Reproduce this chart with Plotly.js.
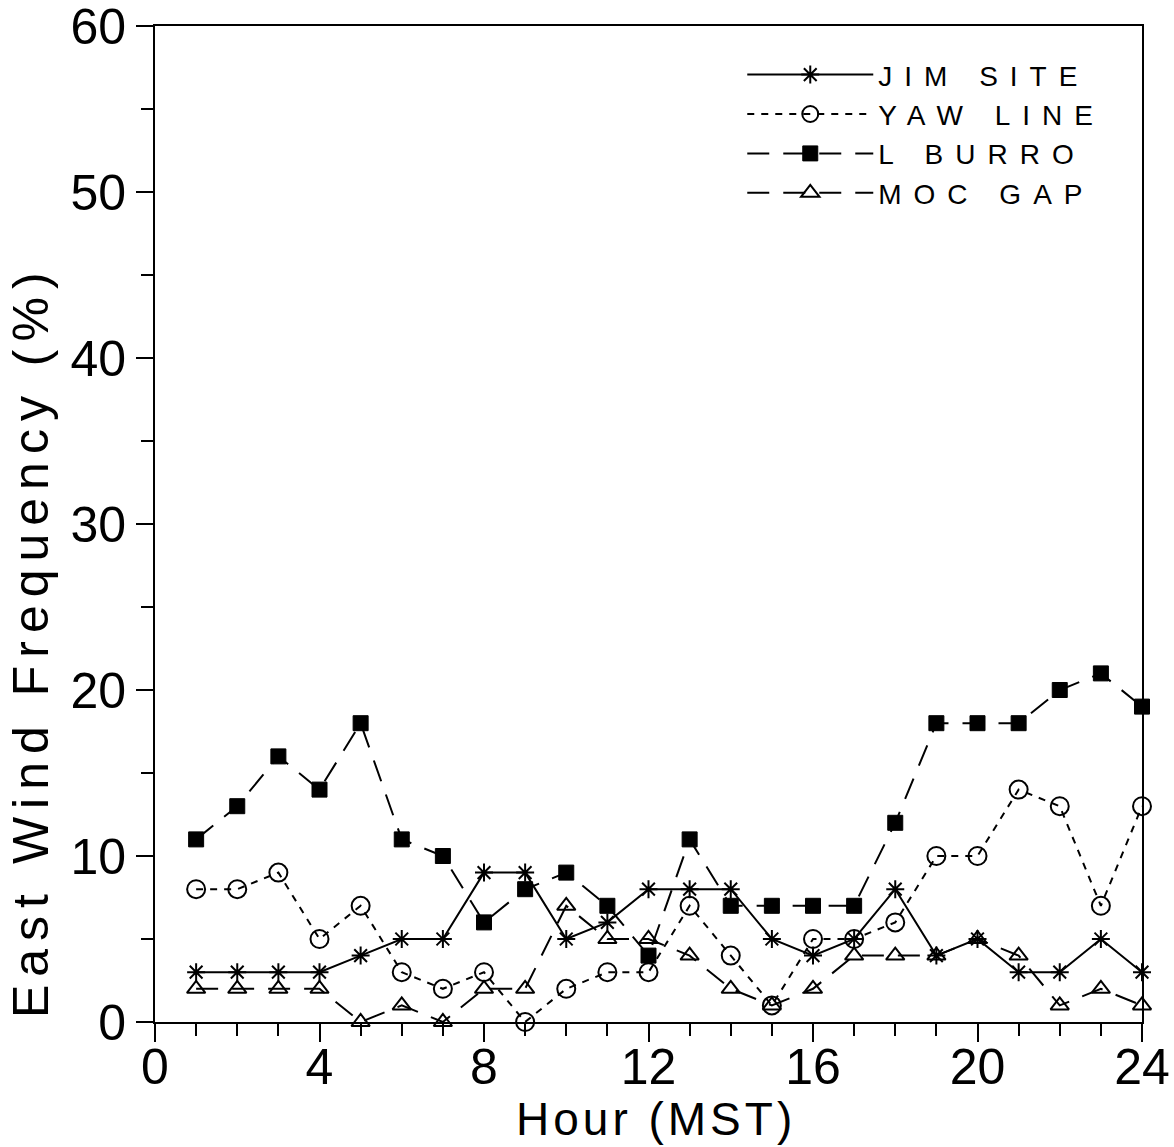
<!DOCTYPE html>
<html><head><meta charset="utf-8">
<script src="https://cdn.plot.ly/plotly-3.0.1.min.js"></script>
<style>
html,body{margin:0;padding:0;background:#fff;}
#chart{width:1174px;height:1147px;}
.annotation[data-index="0"] .annotation-text{letter-spacing:4px;}
.annotation[data-index="1"] .annotation-text{letter-spacing:8px;}
.legendtext{letter-spacing:12px;}
</style>
</head><body>
<div id="chart"></div>
<script>
const hours = [1,2,3,4,5,6,7,8,9,10,11,12,13,14,15,16,17,18,19,20,21,22,23,24];
const jimSite = [3,3,3,3,4,5,5,9,9,5,6,8,8,8,5,4,5,8,4,5,3,3,5,3];
const yawLine = [8,8,9,5,7,3,2,3,0,2,3,3,7,4,1,5,5,6,10,10,14,13,7,13];
const lBurro  = [11,13,16,14,18,11,10,6,8,9,7,4,11,7,7,7,7,12,18,18,18,20,21,19];
const mocGap  = [2,2,2,2,0,1,0,2,2,7,5,5,4,2,1,2,4,4,4,5,4,1,2,1];
const seriesNames = ['JIM SITE','YAW LINE','L BURRO','MOC GAP'];
const xTitle = 'Hour (MST)';
const yTitle = 'East Wind Frequency (%)';

const FONT = 'Liberation Sans, Arial, sans-serif';
const traces = [
  {x:hours, y:jimSite, name:seriesNames[0], mode:'lines+markers',
   line:{color:'#000', width:2, dash:'solid'},
   marker:{symbol:'asterisk-open', size:15, color:'#000', line:{color:'#000', width:2}}},
  {x:hours, y:yawLine, name:seriesNames[1], mode:'lines+markers',
   line:{color:'#000', width:2, dash:'7px,7px'},
   marker:{symbol:'circle-open', size:18, color:'#000', line:{color:'#000', width:2}}},
  {x:hours, y:lBurro, name:seriesNames[2], mode:'lines+markers',
   line:{color:'#000', width:2, dash:'22px,14px'},
   marker:{symbol:'square', size:15, color:'#000', line:{color:'#000', width:1}}},
  {x:hours, y:mocGap, name:seriesNames[3], mode:'lines+markers',
   line:{color:'#000', width:2, dash:'22px,14px'},
   marker:{symbol:'triangle-up-open', size:16, color:'#000', line:{color:'#000', width:2}}}
];
traces.forEach(t => t.cliponaxis = false);

const layout = {
  width:1174, height:1147,
  margin:{l:155, r:32, t:26, b:125},
  paper_bgcolor:'#fff', plot_bgcolor:'#fff',
  font:{family:FONT, color:'#000'},
  showlegend:true,
  legend:{x:0.595, y:0.976, xanchor:'left', yanchor:'top',
    font:{family:FONT, size:28, color:'#000'}, bgcolor:'rgba(0,0,0,0)',
    tracegroupgap:0, itemwidth:126},
  xaxis:{range:[0,24], dtick:4, tick0:0, showgrid:false, zeroline:false,
    showline:true, mirror:true, linecolor:'#000', linewidth:2,
    ticks:'outside', ticklen:18, tickwidth:2, tickcolor:'#000',
    minor:{dtick:1, ticks:'outside', ticklen:12, tickwidth:2, tickcolor:'#000', showgrid:false},
    tickfont:{family:FONT, size:50, color:'#000'}, ticklabelstandoff:-18,
    ticklabeloverflow:'allow'},
  yaxis:{range:[0,60], dtick:10, tick0:0, showgrid:false, zeroline:false,
    showline:true, mirror:true, linecolor:'#000', linewidth:2,
    ticks:'outside', ticklen:17, tickwidth:2, tickcolor:'#000',
    minor:{dtick:5, ticks:'outside', ticklen:12, tickwidth:2, tickcolor:'#000', showgrid:false},
    tickfont:{family:FONT, size:50, color:'#000'}, ticklabeloverflow:'allow'},
  annotations:[
    {text:xTitle, xref:'paper', yref:'paper', x:0.5076, y:-0.097,
     xanchor:'center', yanchor:'middle', showarrow:false,
     font:{family:FONT, size:46, color:'#000'}},
    {text:yTitle, xref:'paper', yref:'paper', x:-0.1256, y:0.3825,
     xanchor:'center', yanchor:'middle', textangle:-90, showarrow:false,
     font:{family:FONT, size:50, color:'#000'}}]
};
Plotly.newPlot('chart', traces, layout, {displayModeBar:false, staticPlot:true});
</script>
</body></html>
